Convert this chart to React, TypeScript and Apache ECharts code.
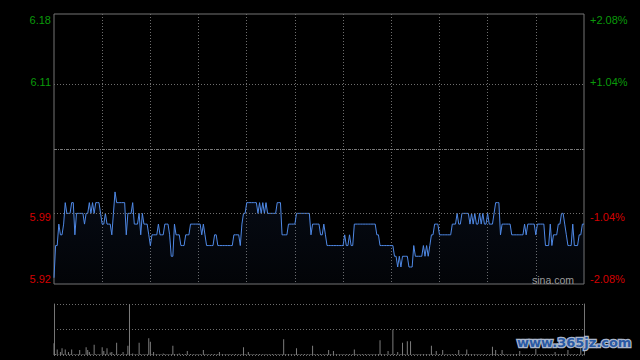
import React, { useEffect, useRef } from 'react';
import * as echarts from 'echarts';

const PREV_CLOSE = 6.05;
const PCT_TICKS = [-2.08, -1.04, 0, 1.04, 2.08];
const PRICE_LABELS = ['5.92', '5.99', '', '6.11', '6.18'];
const PCT_LABELS = ['-2.08%', '-1.04%', '', '+1.04%', '+2.08%'];

const PRICES = [
  5.93, 5.96, 5.96, 5.98, 5.97, 5.97, 5.98, 6.0, 5.99, 5.99,
  5.99, 6.0, 6.0, 5.97, 5.99, 5.99, 5.99, 5.99, 5.99, 5.98,
  5.99, 5.99, 6.0, 5.99, 6.0, 5.99, 6.0, 6.0, 6.0, 5.99,
  5.98, 5.98, 5.99, 5.98, 5.98, 5.98, 5.97, 5.99, 6.01, 6.0,
  6.0, 6.0, 6.0, 6.0, 6.0, 5.97, 5.99, 5.99, 5.99, 6.0,
  5.98, 5.98, 5.98, 5.99, 5.97, 5.99, 5.98, 5.98, 5.98, 5.97,
  5.96, 5.97, 5.97, 5.97, 5.97, 5.98, 5.97, 5.97, 5.97, 5.98,
  5.98, 5.98, 5.97, 5.95, 5.95, 5.98, 5.97, 5.97, 5.97, 5.96,
  5.96, 5.96, 5.97, 5.97, 5.97, 5.98, 5.98, 5.98, 5.98, 5.98,
  5.98, 5.98, 5.97, 5.98, 5.97, 5.96, 5.96, 5.96, 5.96, 5.96,
  5.97, 5.97, 5.96, 5.96, 5.96, 5.96, 5.96, 5.96, 5.96, 5.96,
  5.96, 5.96, 5.97, 5.97, 5.97, 5.97, 5.96, 5.98, 5.99, 5.99,
  6.0, 6.0, 6.0, 6.0, 6.0, 6.0, 6.0, 5.99, 6.0, 5.99,
  6.0, 5.99, 6.0, 5.99, 5.99, 5.99, 5.99, 5.99, 5.99, 6.0,
  6.0, 6.0, 5.97, 5.97, 5.97, 5.97, 5.98, 5.98, 5.98, 5.98,
  5.98, 5.99, 5.99, 5.99, 5.99, 5.99, 5.99, 5.99, 5.99, 5.99,
  5.97, 5.98, 5.98, 5.98, 5.98, 5.98, 5.97, 5.97, 5.98, 5.97,
  5.96, 5.96, 5.96, 5.96, 5.96, 5.96, 5.96, 5.96, 5.96, 5.96,
  5.96, 5.97, 5.96, 5.96, 5.97, 5.96, 5.96, 5.98, 5.98, 5.98,
  5.98, 5.98, 5.98, 5.98, 5.98, 5.98, 5.98, 5.98, 5.98, 5.98,
  5.98, 5.97, 5.97, 5.96, 5.96, 5.96, 5.96, 5.96, 5.96, 5.96,
  5.96, 5.96, 5.95, 5.95, 5.94, 5.95, 5.94, 5.95, 5.95, 5.95,
  5.95, 5.94, 5.94, 5.94, 5.96, 5.95, 5.95, 5.95, 5.95, 5.95,
  5.96, 5.95, 5.96, 5.95, 5.96, 5.97, 5.97, 5.98, 5.98, 5.98,
  5.97, 5.97, 5.97, 5.97, 5.97, 5.97, 5.97, 5.97, 5.98, 5.98,
  5.98, 5.99, 5.98, 5.98, 5.99, 5.99, 5.99, 5.99, 5.99, 5.98,
  5.99, 5.98, 5.99, 5.98, 5.98, 5.99, 5.98, 5.99, 5.98, 5.98,
  5.99, 5.98, 5.98, 5.98, 5.99, 6.0, 6.0, 6.0, 5.97, 5.98,
  5.98, 5.98, 5.98, 5.98, 5.98, 5.97, 5.97, 5.97, 5.97, 5.97,
  5.97, 5.97, 5.97, 5.98, 5.97, 5.98, 5.98, 5.98, 5.98, 5.98,
  5.97, 5.98, 5.98, 5.98, 5.98, 5.98, 5.96, 5.96, 5.96, 5.98,
  5.96, 5.97, 5.97, 5.97, 5.98, 5.98, 5.99, 5.99, 5.98, 5.97,
  5.96, 5.96, 5.96, 5.98, 5.96, 5.96, 5.96, 5.97, 5.97, 5.98,
  5.98,
];

const VOLUMES = [
  23, 2, 11, 1, 6, 13, 2, 11, 1, 6,
  2, 11, 1, 2, 1, 2, 10, 1, 2, 1,
  15, 10, 6, 2, 1, 20, 2, 1, 2, 1,
  15, 8, 2, 13, 1, 5, 6, 2, 1, 24,
  2, 1, 2, 6, 1, 2, 18, 100, 2, 3,
  1, 2, 1, 24, 2, 1, 2, 1, 2, 33,
  26, 2, 6, 1, 2, 1, 2, 1, 3, 2,
  1, 2, 1, 2, 18, 2, 1, 2, 3, 1,
  2, 1, 2, 8, 1, 2, 1, 2, 1, 2,
  1, 2, 1, 10, 2, 1, 2, 1, 2, 1,
  2, 1, 2, 6, 1, 2, 1, 2, 1, 2,
  1, 2, 1, 2, 1, 2, 1, 2, 15, 2,
  1, 6, 2, 1, 2, 1, 2, 1, 2, 1,
  2, 1, 2, 1, 2, 1, 2, 1, 2, 1,
  2, 1, 2, 31, 2, 1, 2, 1, 2, 1,
  2, 13, 2, 1, 2, 1, 2, 1, 2, 1,
  2, 18, 2, 1, 2, 1, 2, 1, 2, 1,
  2, 10, 2, 1, 8, 1, 2, 1, 2, 1,
  2, 1, 2, 1, 2, 1, 2, 11, 2, 1,
  2, 1, 2, 1, 2, 1, 2, 1, 2, 1,
  2, 1, 2, 29, 2, 1, 2, 1, 8, 1,
  2, 50, 2, 1, 6, 1, 2, 24, 2, 1,
  27, 1, 27, 1, 2, 1, 2, 1, 2, 1,
  2, 1, 2, 1, 2, 18, 2, 1, 8, 1,
  2, 1, 10, 1, 2, 1, 2, 1, 2, 1,
  2, 1, 10, 1, 2, 1, 2, 11, 2, 1,
  2, 1, 2, 1, 2, 1, 2, 1, 2, 1,
  2, 1, 2, 16, 2, 10, 2, 1, 2, 10,
  2, 1, 2, 1, 2, 1, 2, 1, 2, 1,
  8, 1, 2, 1, 2, 1, 2, 1, 2, 1,
  12, 1, 2, 1, 2, 1, 2, 1, 2, 1,
  2, 1, 6, 1, 2, 1, 2, 1, 2, 1,
  10, 1, 2, 1, 2, 1, 2, 1, 14, 1,
  2,
];

const SESSIONS: [string, string][] = [['09:30', '12:00'], ['13:01', '16:00']];

function buildTimes(): string[] {
  const out: string[] = [];
  const toMin = (s: string) => parseInt(s.slice(0, 2), 10) * 60 + parseInt(s.slice(3), 10);
  for (const [a, b] of SESSIONS) {
    for (let m = toMin(a); m <= toMin(b); m++) {
      const h = Math.floor(m / 60);
      const mm = m % 60;
      out.push(`${String(h).padStart(2, '0')}:${String(mm).padStart(2, '0')}`);
    }
  }
  return out;
}

const GREEN = '#0a9a0a';
const RED = '#d40000';
const FONT = 'Liberation Sans, Arial, sans-serif';

export default function App() {
  const ref = useRef<HTMLDivElement>(null);
  useEffect(() => {
    if (!ref.current) return;
    const chart = echarts.init(ref.current, null, { renderer: 'svg' });
    const times = buildTimes();
    const pMin = +(PREV_CLOSE * (1 + PCT_TICKS[0] / 100)).toFixed(5);
    const pMax = +(PREV_CLOSE * (1 + PCT_TICKS[4] / 100)).toFixed(5);
    const pInt = +((pMax - pMin) / 4).toFixed(5);
    const pUp = +(PREV_CLOSE * (1 + PCT_TICKS[3] / 100)).toFixed(5);
    const pDn = +(PREV_CLOSE * (1 + PCT_TICKS[1] / 100)).toFixed(5);
    const idxPrice = (v: number) => Math.round((v - pMin) / pInt);
    const idxPct = (v: number) => Math.round((v - PCT_TICKS[0]) / (PCT_TICKS[1] - PCT_TICKS[0]));
    const lastIdx = PRICES.length - 1;

    const gridLine = { color: '#6e6e6e', type: [1, 2] as any, width: 1 };

    chart.setOption({
      animation: false,
      backgroundColor: '#000',
      grid: [
        { left: 54, top: 14, width: 530, height: 270, show: true, borderColor: '#757575', borderWidth: 1, backgroundColor: 'transparent' },
        { left: 54, top: 304, width: 530, height: 51 },
      ],
      xAxis: [
        {
          type: 'category', gridIndex: 0, data: times, boundaryGap: false,
          axisLine: { show: false }, axisTick: { show: false }, axisLabel: { show: false },
          splitLine: { show: true, interval: (i: number) => i > 0 && i < lastIdx && i % 30 === 0, lineStyle: gridLine },
        },
        {
          type: 'category', gridIndex: 1, data: times, boundaryGap: false,
          axisLine: { show: false }, axisTick: { show: false }, axisLabel: { show: false }, splitLine: { show: false },
        },
      ],
      yAxis: [
        {
          type: 'value', gridIndex: 0, position: 'left', min: pMin, max: pMax, interval: pInt,
          axisLine: { show: false }, axisTick: { show: false }, splitLine: { show: false },
          axisLabel: {
            margin: 3, fontSize: 11, fontFamily: FONT,
            formatter: (v: number) => PRICE_LABELS[idxPrice(v)] || '',
            color: (v: any) => (idxPrice(+v) >= 2 ? GREEN : RED),
            verticalAlignMinLabel: 'bottom', verticalAlignMaxLabel: 'top',
          },
        },
        {
          type: 'value', gridIndex: 0, position: 'right', min: PCT_TICKS[0], max: PCT_TICKS[4], interval: PCT_TICKS[1] - PCT_TICKS[0],
          axisLine: { show: false }, axisTick: { show: false }, splitLine: { show: false },
          axisLabel: {
            margin: 6, fontSize: 11, fontFamily: FONT,
            formatter: (v: number) => PCT_LABELS[idxPct(v)] || '',
            color: (v: any) => (idxPct(+v) >= 2 ? GREEN : RED),
            verticalAlignMinLabel: 'bottom', verticalAlignMaxLabel: 'top',
          },
        },
        {
          type: 'value', gridIndex: 1, position: 'left', min: 0, max: 100, interval: 50,
          axisLine: { show: true, lineStyle: { color: '#757575', width: 1 } },
          axisTick: { show: false }, axisLabel: { show: false },
          splitLine: { show: true, lineStyle: gridLine },
        },
        {
          type: 'value', gridIndex: 1, position: 'right', min: 0, max: 100, interval: 50,
          axisLine: { show: true, lineStyle: { color: '#757575', width: 1 } },
          axisTick: { show: false }, axisLabel: { show: false }, splitLine: { show: false },
        },
      ],
      series: [
        {
          type: 'line', xAxisIndex: 0, yAxisIndex: 0, data: PRICES,
          symbol: 'none', showSymbol: false,
          lineStyle: { color: '#4f89e6', width: 1 },
          areaStyle: {
            color: new echarts.graphic.LinearGradient(0, 0, 0, 1, [
              { offset: 0, color: 'rgba(40,70,130,0.22)' },
              { offset: 1, color: 'rgba(40,70,130,0.08)' },
            ]),
          },
          markLine: {
            silent: true, symbol: 'none', label: { show: false },
            data: [
              { yAxis: PREV_CLOSE, lineStyle: { color: '#7a7a7a', type: [3, 1, 1, 1], width: 1 } },
              { yAxis: pUp, lineStyle: gridLine },
              { yAxis: pDn, lineStyle: gridLine },
            ],
          },
        },
        {
          type: 'bar', xAxisIndex: 1, yAxisIndex: 2, data: VOLUMES,
          barWidth: 1, itemStyle: { color: '#7c7c7c' },
        },
      ],
      graphic: [
        {
          type: 'text', x: 532, y: 274, z: 10,
          style: { text: 'sina.com', fill: '#9c9c9c', font: '10.5px Liberation Sans, Arial, sans-serif' },
        },
        {
          type: 'text', x: 517, y: 336, z: 10,
          style: {
            text: 'www.365jz.com', fill: '#2a5aa4', stroke: '#aab6cc', lineWidth: 2.5,
            strokeFirst: true,
            font: 'bold 13px DejaVu Sans, Verdana, sans-serif',
          },
        },
      ],
    });
    return () => chart.dispose();
  }, []);
  return (
    <div
      ref={ref}
      style={{ position: 'absolute', left: 0, top: 0, width: 640, height: 360, background: '#000' }}
    />
  );
}
